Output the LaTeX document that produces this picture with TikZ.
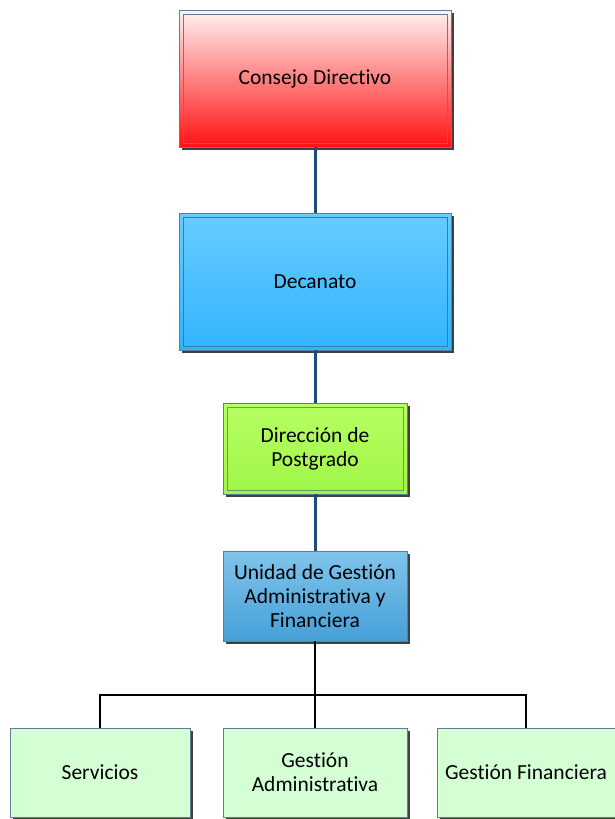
\documentclass[tikz,border=0pt]{standalone}
\usepackage{fontspec}
\setmainfont{Carlito}[Ligatures=CommonOff]
\usetikzlibrary{shadows}

\definecolor{linkblue}{RGB}{31,75,120}
\definecolor{edgegray}{RGB}{95,125,150}
\definecolor{paleGreen}{RGB}{212,255,212}
\definecolor{redTop}{RGB}{255,242,242}
\definecolor{redBot}{RGB}{255,18,18}
\definecolor{skyTop}{RGB}{104,204,255}
\definecolor{skyBot}{RGB}{50,180,255}
\definecolor{skyEdge}{RGB}{40,130,185}
\definecolor{limeTop}{RGB}{182,255,100}
\definecolor{limeBot}{RGB}{160,245,70}
\definecolor{limeEdge}{RGB}{90,160,110}
\definecolor{steelTop}{RGB}{128,196,236}
\definecolor{steelBot}{RGB}{70,160,215}

\begin{document}
\begin{tikzpicture}[
    x=1pt, y=-1pt,
    every node/.style={font=\fontsize{21.5}{24}\selectfont},
    unit/.style={draw=edgegray, line width=0.8pt, inner sep=0pt, align=center,
        drop shadow={shadow xshift=3pt, shadow yshift=-3pt, fill=black!75, opacity=1}},
    inset/.style={path picture={\draw[draw=#1, line width=0.9pt]
        ([shift={(4pt,-4pt)}]path picture bounding box.north west) rectangle
        ([shift={(-4pt,4pt)}]path picture bounding box.south east);}},
    link/.style={draw=linkblue, line width=3pt},
    branch/.style={draw=black, line width=1.6pt}
]
\useasboundingbox (0,0) rectangle (614,819);

\node[unit, minimum width=272pt, minimum height=137pt, top color=redTop, bottom color=redBot,
      inset=edgegray] (cd) at (315,78.5) {Consejo Directivo};
\node[unit, minimum width=272pt, minimum height=137pt, top color=skyTop, bottom color=skyBot,
      inset=skyEdge] (dec) at (315,281.5) {Decanato};
\node[unit, minimum width=184pt, minimum height=91pt, top color=limeTop, bottom color=limeBot,
      inset=limeEdge] (dp) at (315,448.5) {Dirección de\\Postgrado};
\node[unit, minimum width=184pt, minimum height=90pt, top color=steelTop, bottom color=steelBot]
      (ug) at (315,596) {Unidad de Gestión\\Administrativa y\\Financiera};

\node[unit, fill=paleGreen, minimum width=180pt, minimum height=89pt] (serv) at (100,772.5) {Servicios};
\node[unit, fill=paleGreen, minimum width=184pt, minimum height=89pt] (gadm) at (315,772.5) {Gestión\\Administrativa};
\node[unit, fill=paleGreen, minimum width=178pt, minimum height=89pt] (gfin) at (526,772.5) {Gestión Financiera};

\draw[link] (cd.south) -- (dec.north);
\draw[link] (dec.south) -- (dp.north);
\draw[link] (dp.south) -- (ug.north);

% ramas de la unidad
\coordinate (bus) at (315,695);
\draw[branch] (ug.south) -- (bus);
\draw[branch] (bus) -| (serv.north);
\draw[branch] (bus) -- (gadm.north);
\draw[branch] (bus) -| (gfin.north);

\end{tikzpicture}
\end{document}
